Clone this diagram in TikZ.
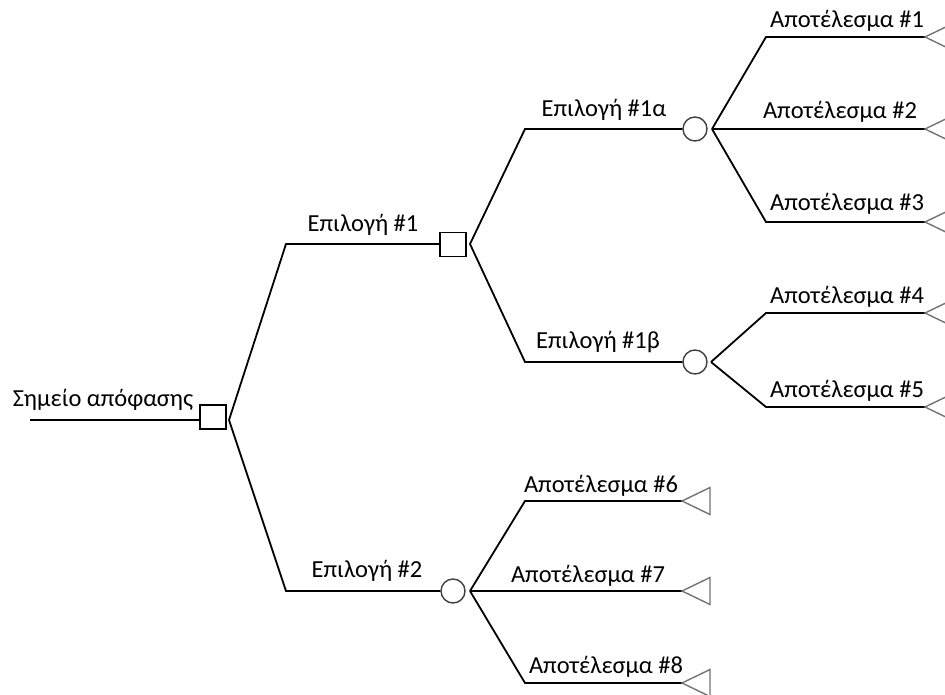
\documentclass[tikz,border=0pt]{standalone}
\usepackage{fontspec}
\setmainfont{Carlito}
\begin{document}
\begin{tikzpicture}[x=1pt,y=-1pt,
  ln/.style={line width=1.8pt,black},
  sqbox/.style={draw=black,line width=1.8pt,minimum width=26pt,minimum height=24pt,inner sep=0pt},
  chance/.style={draw=black!75,line width=1.4pt,circle,minimum size=24pt,inner sep=0pt},
  lbl/.style={anchor=base,inner sep=0pt,font=\fontsize{24.5}{28}\selectfont},
  term/.style={draw=black!55,line width=1.4pt}
]
\useasboundingbox (0,0) rectangle (945,695);
\clip (0,0) rectangle (945,695);
% root
\coordinate (r0) at (30,420);
\node[sqbox] (A) at (213,417) {};
\coordinate (Ab) at (229,420);
\draw[ln] (r0) -- (A.west |- r0);
\node[lbl] (tA) at (103,406) {Σημείο απόφασης};
% Option 1
\coordinate (e1) at (286,244);
\node[sqbox] (B) at (453,244.5) {};
\coordinate (Bb) at (470,244);
\draw[ln] (Ab) -- (e1) -- (B.west |- e1);
\node[lbl] (tB) at (363,232) {Επιλογή \#1};
% Option 1a
\coordinate (e1a) at (525,129);
\node[chance] (C1) at (695,129) {};
\coordinate (C1b) at (712,129);
\draw[ln] (Bb) -- (e1a) -- (C1.west);
\node[lbl] (t1a) at (604,117) {Επιλογή \#1α};
% Option 1b
\coordinate (e1b) at (525,362);
\node[chance] (C2) at (695,362) {};
\coordinate (C2b) at (711,362);
\draw[ln] (Bb) -- (e1b) -- (C2.west);
\node[lbl] (t1b) at (598,348) {Επιλογή \#1β};
% Option 2
\coordinate (e2) at (286,591);
\node[chance] (C3) at (453,591) {};
\coordinate (C3b) at (470,591);
\draw[ln] (Ab) -- (e2) -- (C3.west);
\node[lbl] (t2) at (367,577) {Επιλογή \#2};
% outcomes 1-3
\coordinate (o1s) at (766,37);  \coordinate (o1e) at (925,37);
\coordinate (o2e) at (925,129);
\coordinate (o3s) at (766,222); \coordinate (o3e) at (925,222);
\draw[ln] (C1b) -- (o1s) -- (o1e);
\draw[ln] (C1b) -- (o2e);
\draw[ln] (C1b) -- (o3s) -- (o3e);
\node[lbl] (to1) at (847,28) {Αποτέλεσμα \#1};
\node[lbl] (to2) at (840,119) {Αποτέλεσμα \#2};
\node[lbl] (to3) at (847,211) {Αποτέλεσμα \#3};
% outcomes 4-5
\coordinate (o4s) at (766,313); \coordinate (o4e) at (925,313);
\coordinate (o5s) at (766,407); \coordinate (o5e) at (925,407);
\draw[ln] (C2b) -- (o4s) -- (o4e);
\draw[ln] (C2b) -- (o5s) -- (o5e);
\node[lbl] (to4) at (847,303) {Αποτέλεσμα \#4};
\node[lbl] (to5) at (847,397) {Αποτέλεσμα \#5};
% outcomes 6-8
\coordinate (o6s) at (525,501); \coordinate (o6e) at (682,501);
\coordinate (o7e) at (682,591);
\coordinate (o8s) at (525,683); \coordinate (o8e) at (682,683);
\draw[ln] (C3b) -- (o6s) -- (o6e);
\draw[ln] (C3b) -- (o7e);
\draw[ln] (C3b) -- (o8s) -- (o8e);
\node[lbl] (to6) at (601,492) {Αποτέλεσμα \#6};
\node[lbl] (to7) at (588,582) {Αποτέλεσμα \#7};
\node[lbl] (to8) at (606,673) {Αποτέλεσμα \#8};
% terminal triangles
\foreach \p in {o1e,o2e,o3e,o4e,o5e,o6e,o7e,o8e}{
  \draw[term] (\p) -- ++(28,-13.5) -- ++(0,27) -- cycle;
}
\end{tikzpicture}
\end{document}
